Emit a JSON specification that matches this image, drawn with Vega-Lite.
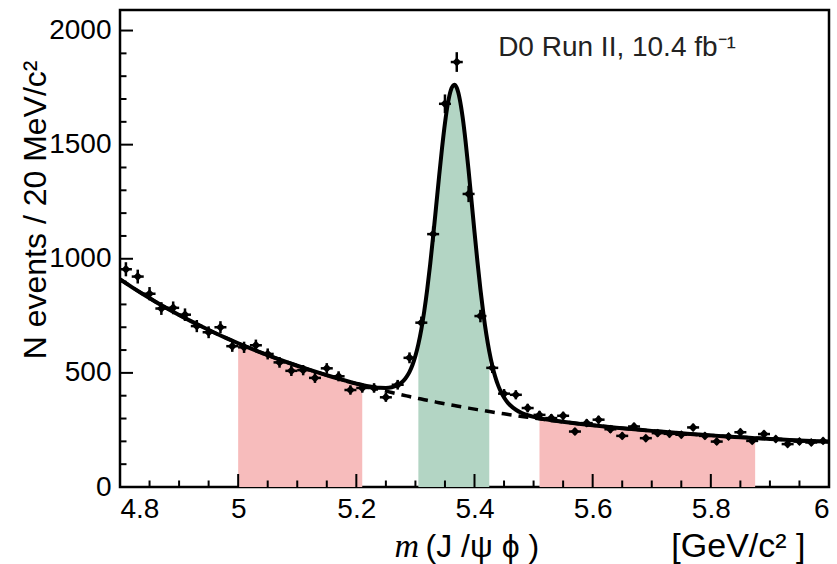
{
  "$schema": "https://vega.github.io/schema/vega-lite/v6.json",
  "width": 709,
  "height": 477,
  "autosize": "none",
  "padding": {"left": 120, "top": 10, "right": 8, "bottom": 77},
  "background": "white",
  "config": {
    "view": {"stroke": "black", "strokeWidth": 2.5},
    "font": "Liberation Sans",
    "axis": {"domain": false, "grid": false, "labelColor": "black", "titleColor": "black", "labelFont": "Liberation Sans", "titleFont": "Liberation Sans", "titleFontWeight": "normal", "labelFontSize": 28, "titleFontSize": 32}
  },
  "datasets": {
    "xmaj": [{"v":4.8},{"v":5.0},{"v":5.2},{"v":5.4},{"v":5.6},{"v":5.8},{"v":6.0}],
    "xmin": [{"v":4.85},{"v":4.9},{"v":4.95},{"v":5.05},{"v":5.1},{"v":5.15},{"v":5.25},{"v":5.3},{"v":5.35},{"v":5.45},{"v":5.5},{"v":5.55},{"v":5.65},{"v":5.7},{"v":5.75},{"v":5.85},{"v":5.9},{"v":5.95}],
    "ymaj": [{"v":0},{"v":500},{"v":1000},{"v":1500},{"v":2000}],
    "ymin": [{"v":100},{"v":200},{"v":300},{"v":400},{"v":600},{"v":700},{"v":800},{"v":900},{"v":1100},{"v":1200},{"v":1300},{"v":1400},{"v":1600},{"v":1700},{"v":1800},{"v":1900}],
    "pts": [
      {"m":4.81,"n":954,"e":30.9},{"m":4.83,"n":922,"e":30.4},{"m":4.85,"n":847,"e":29.1},{"m":4.87,"n":782,"e":28.0},{"m":4.89,"n":785,"e":28.0},
      {"m":4.91,"n":755,"e":27.5},{"m":4.93,"n":705,"e":26.6},{"m":4.95,"n":678,"e":26.0},{"m":4.97,"n":700,"e":26.5},{"m":4.99,"n":617,"e":24.8},
      {"m":5.01,"n":612,"e":24.7},{"m":5.03,"n":621,"e":24.9},{"m":5.05,"n":583,"e":24.1},{"m":5.07,"n":546,"e":23.4},{"m":5.09,"n":509,"e":22.6},
      {"m":5.11,"n":512,"e":22.6},{"m":5.13,"n":478,"e":21.9},{"m":5.15,"n":520,"e":22.8},{"m":5.17,"n":485,"e":22.0},{"m":5.19,"n":425,"e":20.6},
      {"m":5.21,"n":434,"e":20.8},{"m":5.23,"n":434,"e":20.8},{"m":5.25,"n":393,"e":19.8},{"m":5.27,"n":448,"e":21.2},{"m":5.29,"n":566,"e":23.8},
      {"m":5.31,"n":720,"e":26.8},{"m":5.33,"n":1108,"e":33.3},{"m":5.35,"n":1679,"e":41.0},{"m":5.37,"n":1862,"e":43.2},{"m":5.39,"n":1284,"e":35.8},
      {"m":5.41,"n":749,"e":27.4},{"m":5.43,"n":522,"e":22.8},{"m":5.45,"n":409,"e":20.2},{"m":5.47,"n":404,"e":20.1},{"m":5.49,"n":346,"e":18.6},
      {"m":5.51,"n":316,"e":17.8},{"m":5.53,"n":302,"e":17.4},{"m":5.55,"n":312,"e":17.7},{"m":5.57,"n":243,"e":15.6},{"m":5.59,"n":280,"e":16.7},
      {"m":5.61,"n":295,"e":17.2},{"m":5.63,"n":253,"e":15.9},{"m":5.65,"n":224,"e":15.0},{"m":5.67,"n":265,"e":16.3},{"m":5.69,"n":214,"e":14.6},
      {"m":5.71,"n":236,"e":15.4},{"m":5.73,"n":233,"e":15.3},{"m":5.75,"n":229,"e":15.1},{"m":5.77,"n":261,"e":16.2},{"m":5.79,"n":224,"e":15.0},
      {"m":5.81,"n":199,"e":14.1},{"m":5.83,"n":221,"e":14.9},{"m":5.85,"n":240,"e":15.5},{"m":5.87,"n":202,"e":14.2},{"m":5.89,"n":232,"e":15.2},
      {"m":5.91,"n":210,"e":14.5},{"m":5.93,"n":188,"e":13.7},{"m":5.95,"n":199,"e":14.1},{"m":5.97,"n":195,"e":14.0},{"m":5.99,"n":202,"e":14.2}
    ],
    "fit": [
      {"m":4.80,"t":910.0,"b":910.0},{"m":4.82,"t":875.8,"b":875.8},{"m":4.84,"t":843.2,"b":843.2},{"m":4.86,"t":812.0,"b":812.0},
      {"m":4.88,"t":782.3,"b":782.3},{"m":4.90,"t":753.8,"b":753.8},{"m":4.92,"t":726.7,"b":726.7},{"m":4.94,"t":700.8,"b":700.8},
      {"m":4.96,"t":676.0,"b":676.0},{"m":4.98,"t":652.4,"b":652.4},{"m":5.00,"t":629.8,"b":629.8},{"m":5.01,"t":618.9,"b":618.9},
      {"m":5.02,"t":608.2,"b":608.2},{"m":5.04,"t":587.6,"b":587.6},{"m":5.06,"t":567.9,"b":567.9},{"m":5.08,"t":549.1,"b":549.1},
      {"m":5.10,"t":531.2,"b":531.2},{"m":5.12,"t":514.1,"b":514.1},{"m":5.14,"t":497.7,"b":497.7},{"m":5.16,"t":482.1,"b":482.1},
      {"m":5.18,"t":467.1,"b":467.1},{"m":5.20,"t":452.9,"b":452.9},{"m":5.21,"t":447.3,"b":446.0},{"m":5.22,"t":441.7,"b":439.3},
      {"m":5.23,"t":437.2,"b":432.7},{"m":5.24,"t":434.4,"b":426.3},{"m":5.25,"t":433.9,"b":420.0},{"m":5.26,"t":437.1,"b":413.8},
      {"m":5.27,"t":446.4,"b":407.8},{"m":5.28,"t":466.4,"b":402.0},{"m":5.285,"t":482.7,"b":399.1},{"m":5.29,"t":504.9,"b":396.2},
      {"m":5.295,"t":534.8,"b":393.4},{"m":5.30,"t":574.5,"b":390.6},{"m":5.305,"t":626.0,"b":387.9},{"m":5.31,"t":690.9,"b":385.2},
      {"m":5.315,"t":770.9,"b":382.5},{"m":5.32,"t":866.3,"b":379.8},{"m":5.325,"t":976.3,"b":377.2},{"m":5.33,"t":1098.3,"b":374.6},
      {"m":5.335,"t":1227.9,"b":372.0},{"m":5.34,"t":1358.9,"b":369.5},{"m":5.345,"t":1483.6,"b":367.0},{"m":5.35,"t":1593.8,"b":364.5},
      {"m":5.355,"t":1681.4,"b":362.1},{"m":5.36,"t":1739.2,"b":359.6},{"m":5.366,"t":1762.8,"b":356.8},{"m":5.37,"t":1749.1,"b":354.9},
      {"m":5.375,"t":1699.8,"b":352.5},{"m":5.38,"t":1618.6,"b":350.2},{"m":5.385,"t":1511.9,"b":347.9},{"m":5.39,"t":1387.2,"b":345.7},
      {"m":5.395,"t":1252.8,"b":343.4},{"m":5.40,"t":1117.1,"b":341.2},{"m":5.405,"t":986.7,"b":339.0},{"m":5.41,"t":866.8,"b":336.9},
      {"m":5.415,"t":760.5,"b":334.7},{"m":5.42,"t":669.6,"b":332.6},{"m":5.425,"t":593.9,"b":330.5},{"m":5.43,"t":532.6,"b":328.5},
      {"m":5.435,"t":483.6,"b":326.4},{"m":5.44,"t":445.2,"b":324.4},{"m":5.445,"t":415.2,"b":322.4},{"m":5.45,"t":392.0,"b":320.5},
      {"m":5.455,"t":373.7,"b":318.5},{"m":5.46,"t":359.3,"b":316.6},{"m":5.47,"t":338.6,"b":312.8},{"m":5.48,"t":324.5,"b":309.1},
      {"m":5.49,"t":314.5,"b":305.5},{"m":5.50,"t":307.0,"b":301.9},{"m":5.51,"t":301.5,"b":298.5},{"m":5.52,"t":296.6,"b":295.1},
      {"m":5.53,"t":292.6,"b":291.8},{"m":5.54,"t":288.9,"b":288.6},{"m":5.56,"t":282.3,"b":282.3},{"m":5.58,"t":276.4,"b":276.4},
      {"m":5.60,"t":270.7,"b":270.7},{"m":5.62,"t":265.3,"b":265.3},{"m":5.64,"t":260.1,"b":260.1},{"m":5.66,"t":255.1,"b":255.1},
      {"m":5.68,"t":250.4,"b":250.4},{"m":5.70,"t":245.9,"b":245.9},{"m":5.72,"t":241.6,"b":241.6},{"m":5.74,"t":237.5,"b":237.5},
      {"m":5.76,"t":233.5,"b":233.5},{"m":5.78,"t":229.8,"b":229.8},{"m":5.80,"t":226.2,"b":226.2},{"m":5.82,"t":222.8,"b":222.8},
      {"m":5.84,"t":219.5,"b":219.5},{"m":5.86,"t":216.4,"b":216.4},{"m":5.875,"t":214.1,"b":214.1},{"m":5.88,"t":213.4,"b":213.4},
      {"m":5.90,"t":210.5,"b":210.5},{"m":5.92,"t":207.8,"b":207.8},{"m":5.94,"t":205.2,"b":205.2},{"m":5.96,"t":202.7,"b":202.7},
      {"m":5.98,"t":200.4,"b":200.4},{"m":6.00,"t":198.1,"b":198.1}
    ]
  },
  "resolve": {"axis": {"x": "independent", "y": "independent"}},
  "layer": [
    {
      "data": {"name": "fit"},
      "transform": [{"filter": "datum.m >= 5.0 && datum.m <= 5.21"}],
      "mark": {"type": "area", "color": "#f7bcbc", "opacity": 1},
      "encoding": {
        "x": {"field": "m", "type": "quantitative", "scale": {"domain": [4.8, 6.0], "nice": false, "zero": false},
          "axis": {"orient": "bottom", "values": [4.8, 5, 5.2, 5.4, 5.6, 5.8, 6], "format": "~g", "ticks": false, "labelPadding": 8,
            "title": "[GeV/c² ]", "titleFontSize": 34, "titleAnchor": null, "titleAlign": "right", "titleBaseline": "alphabetic", "titleX": 685, "titleY": 69}},
        "y": {"field": "t", "type": "quantitative", "scale": {"domain": [0, 2090], "nice": false},
          "axis": {"orient": "left", "values": [0, 500, 1000, 1500, 2000], "format": "d", "ticks": false, "labelPadding": 9,
            "title": "N events / 20 MeV/c²", "titleAnchor": null, "titleAngle": -90, "titleAlign": "right", "titleBaseline": "alphabetic", "titleX": -75, "titleY": 50}}
      }
    },
    {
      "data": {"name": "fit"},
      "transform": [{"filter": "datum.m >= 5.51 && datum.m <= 5.875"}],
      "mark": {"type": "area", "color": "#f7bcbc", "opacity": 1},
      "encoding": {
        "x": {"field": "m", "type": "quantitative", "scale": {"domain": [4.8, 6.0], "nice": false, "zero": false},
          "axis": {"orient": "bottom", "labels": false, "ticks": false, "values": [],
            "title": "(J /ψ  ϕ )", "titleAnchor": null, "titleAlign": "left", "titleBaseline": "alphabetic", "titleX": 305, "titleY": 69}},
        "y": {"field": "t", "type": "quantitative", "scale": {"domain": [0, 2090], "nice": false}, "axis": null}
      }
    },
    {
      "data": {"name": "fit"},
      "transform": [{"filter": "datum.m >= 5.305 && datum.m <= 5.425"}],
      "mark": {"type": "area", "color": "#b3d5c4", "opacity": 1, "interpolate": "monotone"},
      "encoding": {
        "x": {"field": "m", "type": "quantitative", "scale": {"domain": [4.8, 6.0], "nice": false, "zero": false},
          "axis": {"orient": "bottom", "labels": false, "ticks": false, "values": [], "title": "m", "titleFont": "Liberation Serif", "titleFontStyle": "italic", "titleFontSize": 34,
            "titleAnchor": null, "titleAlign": "left", "titleBaseline": "alphabetic", "titleX": 274, "titleY": 69}},
        "y": {"field": "t", "type": "quantitative", "scale": {"domain": [0, 2090], "nice": false}, "axis": null}
      }
    },
    {
      "data": {"name": "xmaj"},
      "mark": {"type": "tick", "orient": "vertical", "color": "black", "size": 26, "thickness": 2, "opacity": 1, "clip": true},
      "encoding": {
        "x": {"field": "v", "type": "quantitative", "scale": {"domain": [4.8, 6.0], "nice": false, "zero": false}, "axis": null},
        "y": {"datum": 0, "type": "quantitative", "scale": {"domain": [0, 2090], "nice": false}, "axis": null}
      }
    },
    {
      "data": {"name": "xmin"},
      "mark": {"type": "tick", "orient": "vertical", "color": "black", "size": 13, "thickness": 2, "opacity": 1, "clip": true},
      "encoding": {
        "x": {"field": "v", "type": "quantitative", "scale": {"domain": [4.8, 6.0], "nice": false, "zero": false}, "axis": null},
        "y": {"datum": 0, "type": "quantitative", "scale": {"domain": [0, 2090], "nice": false}, "axis": null}
      }
    },
    {
      "data": {"name": "ymaj"},
      "mark": {"type": "tick", "orient": "horizontal", "color": "black", "size": 26, "thickness": 2, "opacity": 1, "clip": true},
      "encoding": {
        "y": {"field": "v", "type": "quantitative", "scale": {"domain": [0, 2090], "nice": false}, "axis": null},
        "x": {"datum": 4.8, "type": "quantitative", "scale": {"domain": [4.8, 6.0], "nice": false, "zero": false}, "axis": null}
      }
    },
    {
      "data": {"name": "ymin"},
      "mark": {"type": "tick", "orient": "horizontal", "color": "black", "size": 13, "thickness": 2, "opacity": 1, "clip": true},
      "encoding": {
        "y": {"field": "v", "type": "quantitative", "scale": {"domain": [0, 2090], "nice": false}, "axis": null},
        "x": {"datum": 4.8, "type": "quantitative", "scale": {"domain": [4.8, 6.0], "nice": false, "zero": false}, "axis": null}
      }
    },
    {
      "data": {"name": "fit"},
      "mark": {"type": "line", "color": "black", "strokeWidth": 3.5, "strokeDash": [10, 7]},
      "encoding": {
        "x": {"field": "m", "type": "quantitative", "scale": {"domain": [4.8, 6.0], "nice": false, "zero": false}, "axis": null},
        "y": {"field": "b", "type": "quantitative", "scale": {"domain": [0, 2090], "nice": false}, "axis": null}
      }
    },
    {
      "data": {"name": "fit"},
      "mark": {"type": "line", "color": "black", "strokeWidth": 4, "interpolate": "monotone"},
      "encoding": {
        "x": {"field": "m", "type": "quantitative", "scale": {"domain": [4.8, 6.0], "nice": false, "zero": false}, "axis": null},
        "y": {"field": "t", "type": "quantitative", "scale": {"domain": [0, 2090], "nice": false}, "axis": null}
      }
    },
    {
      "data": {"name": "pts"},
      "mark": {"type": "errorbar", "color": "black", "thickness": 2.5},
      "encoding": {
        "x": {"field": "m", "type": "quantitative", "scale": {"domain": [4.8, 6.0], "nice": false, "zero": false}, "axis": null},
        "y": {"field": "n", "type": "quantitative", "scale": {"domain": [0, 2090], "nice": false}, "axis": null},
        "yError": {"field": "e"}
      }
    },
    {
      "data": {"name": "pts"},
      "mark": {"type": "tick", "orient": "horizontal", "color": "black", "size": 12, "thickness": 2.5, "opacity": 1},
      "encoding": {
        "x": {"field": "m", "type": "quantitative", "scale": {"domain": [4.8, 6.0], "nice": false, "zero": false}, "axis": null},
        "y": {"field": "n", "type": "quantitative", "scale": {"domain": [0, 2090], "nice": false}, "axis": null}
      }
    },
    {
      "data": {"name": "pts"},
      "mark": {"type": "point", "shape": "diamond", "filled": true, "size": 80, "color": "black", "opacity": 1},
      "encoding": {
        "x": {"field": "m", "type": "quantitative", "scale": {"domain": [4.8, 6.0], "nice": false, "zero": false}, "axis": null},
        "y": {"field": "n", "type": "quantitative", "scale": {"domain": [0, 2090], "nice": false}, "axis": null}
      }
    },
    {
      "data": {"values": [{"label": "D0 Run II, 10.4 fb⁻¹"}]},
      "mark": {"type": "text", "font": "Liberation Sans", "fontSize": 28, "align": "left", "baseline": "alphabetic", "color": "#222222"},
      "encoding": {
        "x": {"datum": 5.44, "type": "quantitative", "scale": {"domain": [4.8, 6.0], "nice": false, "zero": false}, "axis": null},
        "y": {"datum": 1890, "type": "quantitative", "scale": {"domain": [0, 2090], "nice": false}, "axis": null},
        "text": {"field": "label"}
      }
    }
  ]
}
